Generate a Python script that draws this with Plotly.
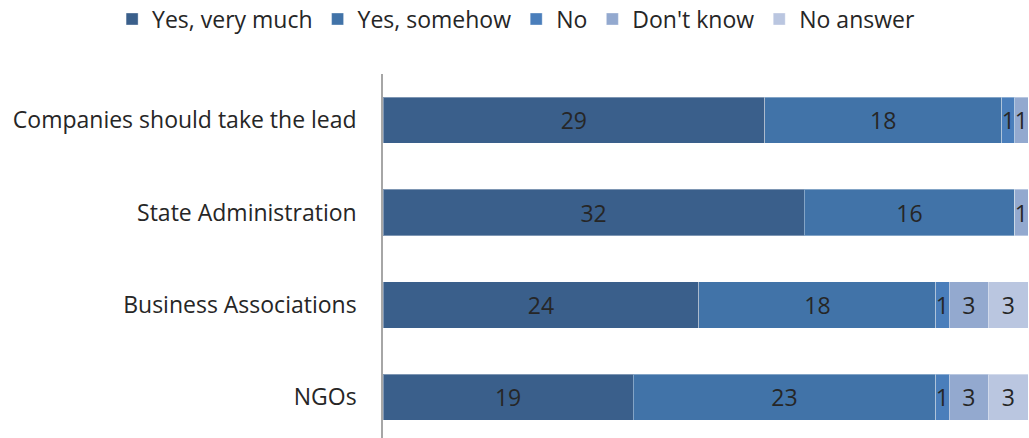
import plotly.graph_objects as go

categories = ["Companies should take the lead", "State Administration",
              "Business Associations", "NGOs"]
series_names = ["Yes, very much", "Yes, somehow", "No", "Don't know", "No answer"]
yes_very_much = [29, 32, 24, 19]
yes_somehow = [18, 16, 18, 23]
no = [1, 0, 1, 1]
dont_know = [1, 1, 3, 3]
no_answer = [0, 0, 3, 3]
colors = ["#3A5F8B", "#4173A8", "#4A7EBB", "#93A9CF", "#BAC6E0"]

series_values = [yes_very_much, yes_somehow, no, dont_know, no_answer]

FONT = "Open Sans"
SIZE = 23

fig = go.Figure()
for name, vals, col in zip(series_names, series_values, colors):
    fig.add_trace(go.Bar(
        y=categories, x=vals, name=name, orientation="h",
        marker=dict(color=col, line=dict(color="rgba(255,255,255,0.35)", width=1)),
        text=[str(v) if v else "" for v in vals],
        textposition="inside", insidetextanchor="middle",
        textfont=dict(color="#262626", size=SIZE, family=FONT),
        constraintext="none",
        width=0.5,
    ))

fig.update_layout(
    barmode="stack",
    width=1029, height=438,
    margin=dict(l=383, r=1, t=74, b=0, autoexpand=False),
    paper_bgcolor="white", plot_bgcolor="white",
    font=dict(family=FONT, size=SIZE, color="#262626"),
    uniformtext=dict(minsize=SIZE, mode="show"),
    showlegend=True,
    legend=dict(orientation="h", xref="paper", x=-0.42, xanchor="left",
                yref="paper", y=1.21, yanchor="top",
                font=dict(size=SIZE, family=FONT, color="#262626"),
                itemwidth=30, traceorder="normal"),
    xaxis=dict(range=[0, 49], visible=False, fixedrange=True),
    yaxis=dict(range=[3.44, -0.5], showline=True, linecolor="#A6A6A6", linewidth=1.5,
               showgrid=False, ticks="", ticklabelstandoff=20,
               tickfont=dict(size=SIZE, family=FONT, color="#262626")),
)

fig.write_html("out.html")
